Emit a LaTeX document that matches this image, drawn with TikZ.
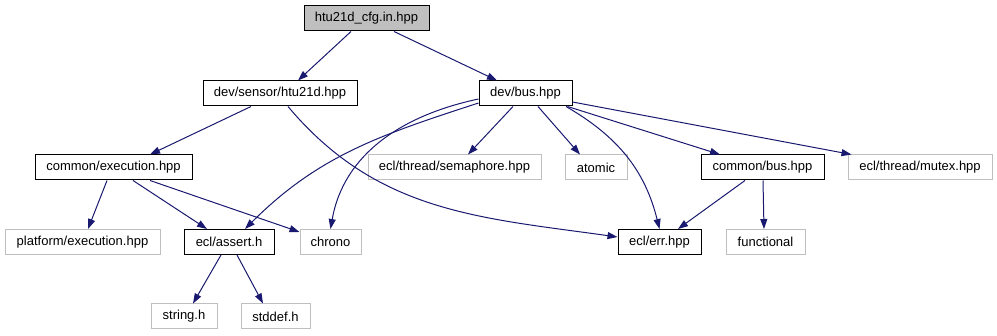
\documentclass[tikz,border=0pt]{standalone}
\usepackage{fontspec}
\setmainfont{Liberation Sans}
\usetikzlibrary{arrows.meta}
\definecolor{EdgeBlue}{HTML}{191970}
\definecolor{LightFrame}{HTML}{BFBFBF}

\begin{document}
\begin{tikzpicture}[x=1pt,y=-1pt,>={Triangle[length=10pt,width=7pt]},
  file/.style={draw,line width=1pt,minimum height=25pt,inner sep=0pt,font=\fontsize{13}{15}\selectfont},
  ext/.style={file,draw=LightFrame},
  root/.style={file,fill=LightFrame},
  dep/.style={->,color=EdgeBlue,line width=1pt}]
\useasboundingbox (0,0) rectangle (997,336);
% include files, row by row
\node[root,minimum width=125pt](cfg) at (366.5,18.5){htu21d\_cfg.in.hpp};
\node[file,minimum width=154pt](sensor) at (280,93.5){dev/sensor/htu21d.hpp};
\node[file,minimum width=93pt](bus) at (525.5,93.5){dev/bus.hpp};
\node[file,minimum width=157pt](exec) at (113.5,167.5){common/execution.hpp};
\node[ext,minimum width=173pt](sem) at (454.5,167.5){ecl/thread/semaphore.hpp};
\node[ext,minimum width=62pt](atomic) at (596,167.5){atomic};
\node[file,minimum width=123pt](cbus) at (762.5,167.5){common/bus.hpp};
\node[ext,minimum width=144pt](mutex) at (920,167.5){ecl/thread/mutex.hpp};
\node[ext,minimum width=155pt](plat) at (82.5,242){platform/execution.hpp};
\node[file,minimum width=90pt](assert) at (229,242){ecl/assert.h};
\node[ext,minimum width=61pt](chrono) at (330.5,242){chrono};
\node[file,minimum width=83pt](err) at (659.5,242){ecl/err.hpp};
\node[ext,minimum width=79pt](func) at (765.5,242){functional};
\node[ext,minimum width=66pt](string) at (184,316.5){string.h};
\node[ext,minimum width=69pt](stddef) at (275.5,316.5){stddef.h};
% dependencies
\draw[dep]([xshift=-15.5pt]cfg.south)--([xshift=18pt]sensor.north);
\draw[dep]([xshift=27.5pt]cfg.south)--([xshift=-28.5pt]bus.north);
\draw[dep]([xshift=-29pt]sensor.south)--([xshift=36.5pt]exec.north);
\draw[dep]([xshift=8pt]sensor.south) to[out=-50,in=172] ([yshift=5pt]err.west);
\draw[dep]([yshift=-9.5pt]bus.west) to[out=-162,in=45] ([xshift=16pt]assert.north);
\draw[dep]([yshift=-5.5pt]bus.west) to[out=-168,in=80] (chrono.north);
\draw[dep]([xshift=-12.5pt]bus.south)--([xshift=13.5pt]sem.north);
\draw[dep]([xshift=12.5pt]bus.south)--([xshift=-16pt]atomic.north);
\draw[dep]([xshift=40.5pt]bus.south) to[out=-30,in=104] (err.north);
\draw[dep]([xshift=42pt]bus.south)--([xshift=-42.5pt]cbus.north);
\draw[dep]([yshift=-8.5pt]bus.east)--([xshift=4pt]mutex.north west);
\draw[dep]([xshift=-6.5pt]exec.south)--([xshift=5.5pt]plat.north);
\draw[dep]([xshift=19.5pt]exec.south)--([xshift=-22pt]assert.north);
\draw[dep]([xshift=36.5pt]exec.south)--([yshift=10pt]chrono.west);
\draw[dep]([xshift=-8pt]assert.south)--([xshift=9pt]string.north);
\draw[dep]([xshift=8pt]assert.south)--([xshift=-12.5pt]stddef.north);
\draw[dep]([xshift=-17.5pt]cbus.south)--([xshift=18.5pt]err.north);
\draw[dep]([xshift=0.5pt]cbus.south)--([xshift=-1.5pt]func.north);
\end{tikzpicture}
\end{document}
